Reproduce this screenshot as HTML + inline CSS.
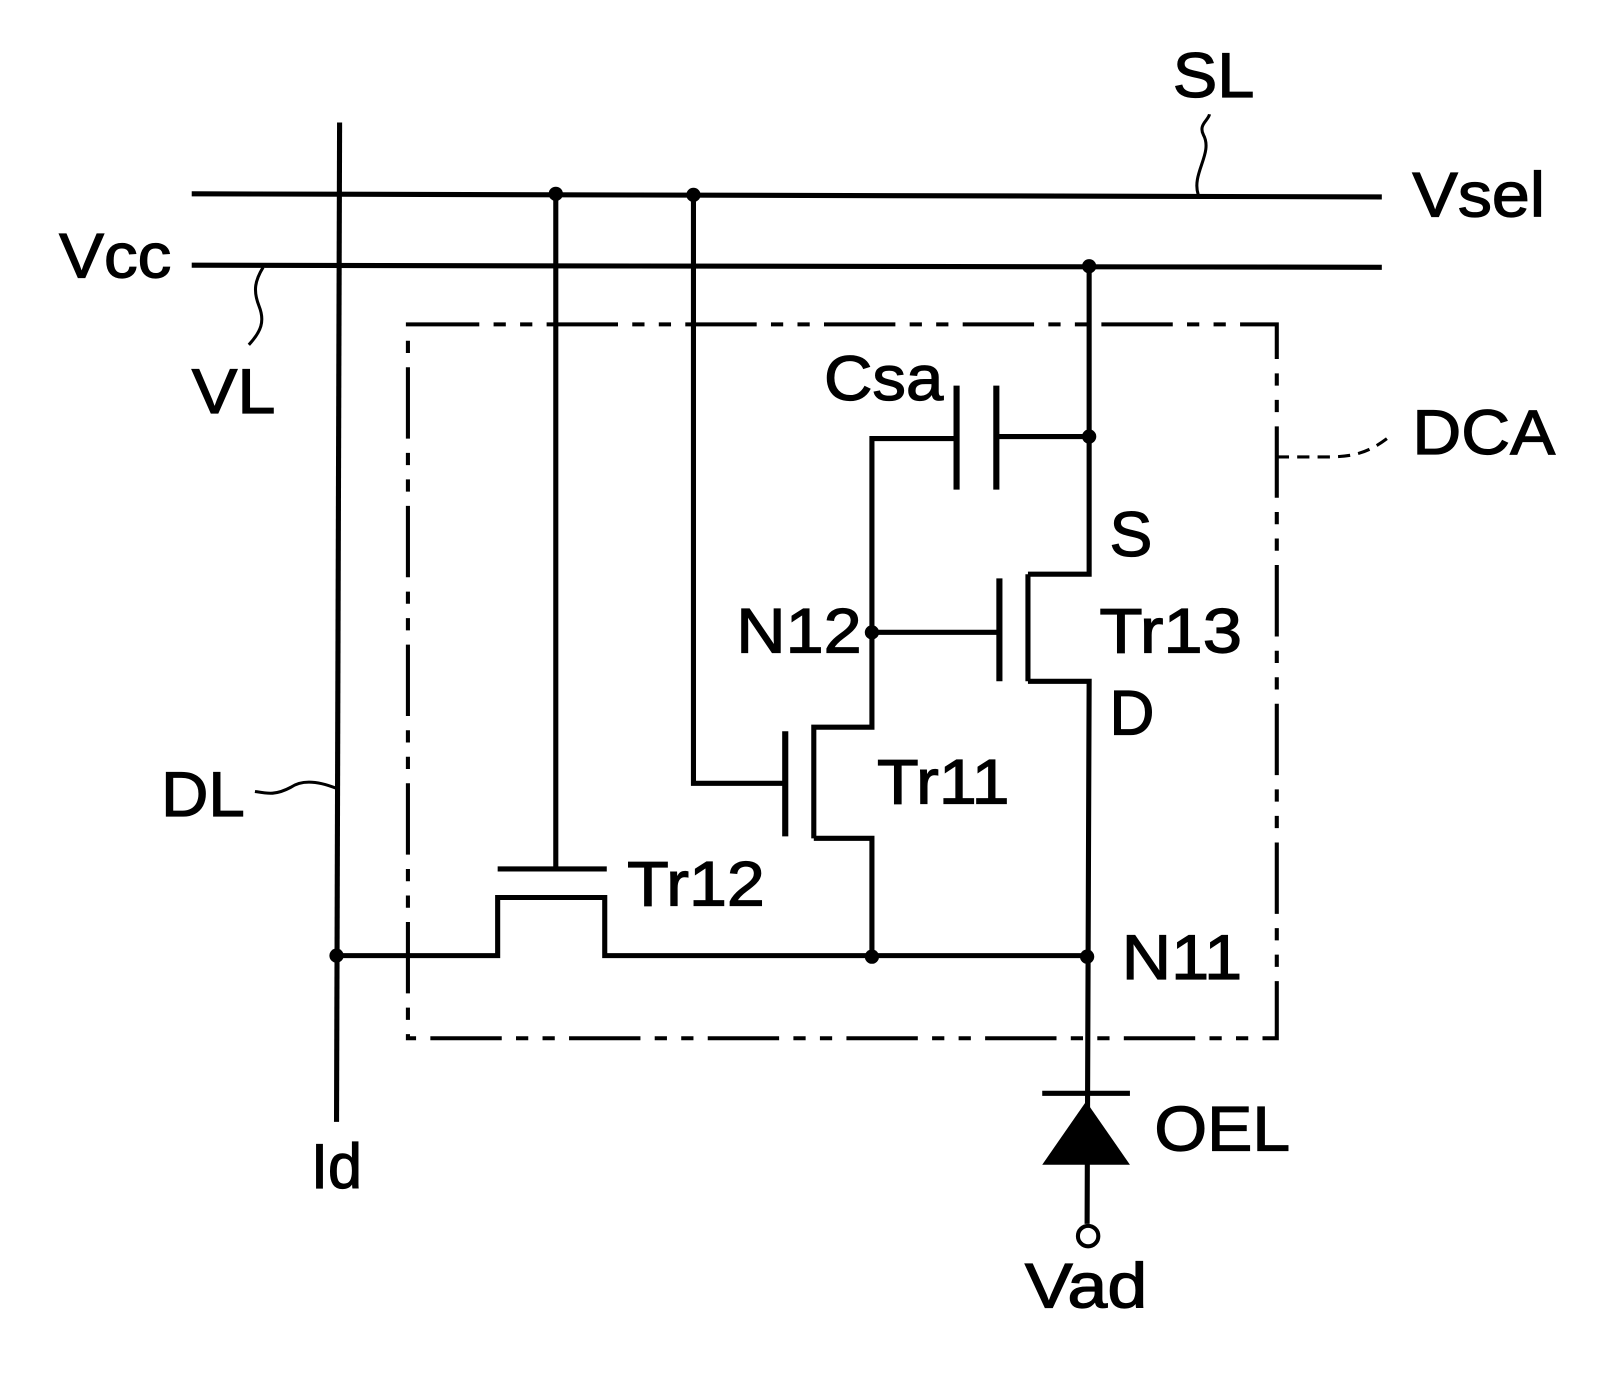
<!DOCTYPE html>
<html><head><meta charset="utf-8"><style>html,body{margin:0;padding:0;background:#fff}svg{display:block}</style></head>
<body>
<svg width="1597" height="1382" viewBox="0 0 1566 1355" xmlns="http://www.w3.org/2000/svg">
<g stroke="#000" stroke-width="5" fill="none" stroke-linecap="butt">
<path d="M188 190 L1355 193"/>
<path d="M188 260 L1355 262"/>
<path d="M333 120 L330 1100"/>
<path d="M1175 191 C1168 170 1190 150 1180 132 C1175 122 1185 118 1186 112" stroke-width="3"/>
<path d="M258 262 C250 275 248 285 254 300 C260 315 256 325 244 338" stroke-width="3"/>
<path d="M330 773 C310 765 295 765 285 772 C270 780 262 778 250 776" stroke-width="3"/>
<path d="M400 318 L1252 318 L1252 1018 L400 1018 Z" stroke-dasharray="70 14 12 14 12 14" stroke-width="4"/>
<path d="M1252 448 L1300 448 C1325 448 1340 445 1360 430" stroke-dasharray="12 8" stroke-width="3"/>
<path d="M545 190 L545 852"/>
<path d="M488 852 L595 852"/>
<path d="M330 937 L488 937 L488 880 L593 880 L593 937 L1068 937"/>
<path d="M680 190 L680 768 L770 768"/>
<path d="M770 717 L770 820" stroke-width="6"/>
<path d="M798 822 L798 713 L855 713 L855 430 L938 430"/>
<path d="M798 822 L855 822 L855 937"/>
<path d="M938 378 L938 480 M977 378 L977 480" stroke-width="6"/>
<path d="M977 428 L1068 428"/>
<path d="M855 620 L980 620"/>
<path d="M980 567 L980 668" stroke-width="6"/>
<path d="M1008 563 L1008 668"/>
<path d="M1008 563 L1068 563 L1068 260"/>
<path d="M1008 668 L1068 668 L1066 1200"/>
<path d="M1022 1072 L1108 1072"/>
<circle cx="1067" cy="1212" r="10" stroke-width="4"/>
</g>
<g fill="#000">
<polygon points="1065,1080 1022,1142 1108,1142"/>
<circle cx="545" cy="190" r="7"/>
<circle cx="680" cy="191" r="7"/>
<circle cx="1068" cy="261" r="7"/>
<circle cx="1068" cy="428" r="7"/>
<circle cx="855" cy="620" r="7"/>
<circle cx="330" cy="937" r="7"/>
<circle cx="855" cy="938" r="7"/>
<circle cx="1066" cy="938" r="7"/>
</g>
<g font-family="Liberation Sans, sans-serif" font-size="62" fill="#000" stroke="#000" stroke-width="1.2">
<text x="1150" y="95" textLength="80" lengthAdjust="spacingAndGlyphs">SL</text>
<text x="1385" y="212" textLength="130" lengthAdjust="spacingAndGlyphs">Vsel</text>
<text x="58" y="272" textLength="110" lengthAdjust="spacingAndGlyphs">Vcc</text>
<text x="188" y="405" textLength="82" lengthAdjust="spacingAndGlyphs">VL</text>
<text x="808" y="392" textLength="117" lengthAdjust="spacingAndGlyphs">Csa</text>
<text x="1385" y="445" textLength="140" lengthAdjust="spacingAndGlyphs">DCA</text>
<text x="1088" y="545" textLength="42" lengthAdjust="spacingAndGlyphs">S</text>
<text x="722" y="640" textLength="123" lengthAdjust="spacingAndGlyphs">N12</text>
<text x="1078" y="640" textLength="140" lengthAdjust="spacingAndGlyphs">Tr13</text>
<text x="1088" y="720" textLength="44" lengthAdjust="spacingAndGlyphs">D</text>
<text x="860" y="788" textLength="130" lengthAdjust="spacingAndGlyphs">Tr11</text>
<text x="158" y="800" textLength="82" lengthAdjust="spacingAndGlyphs">DL</text>
<text x="615" y="888" textLength="135" lengthAdjust="spacingAndGlyphs">Tr12</text>
<text x="1100" y="960" textLength="118" lengthAdjust="spacingAndGlyphs">N11</text>
<text x="1132" y="1128" textLength="133" lengthAdjust="spacingAndGlyphs">OEL</text>
<text x="305" y="1165" textLength="50" lengthAdjust="spacingAndGlyphs">Id</text>
<text x="1005" y="1282" textLength="120" lengthAdjust="spacingAndGlyphs">Vad</text>
</g>
</svg>
</body></html>
